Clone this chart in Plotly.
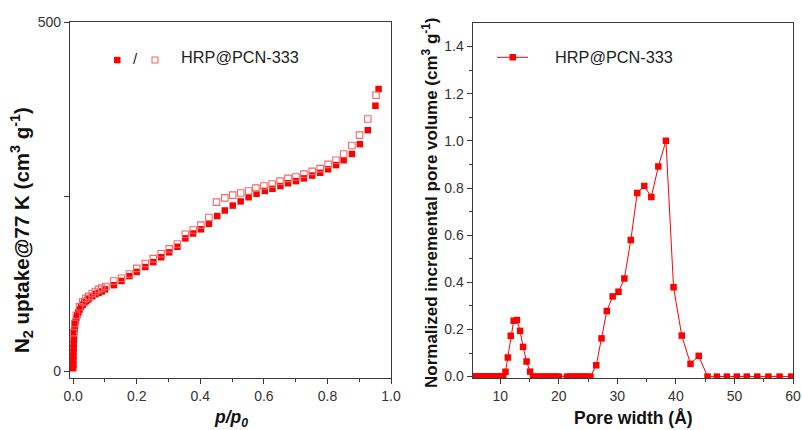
import plotly.graph_objects as go

# ---------------- data: N2 isotherm (left) ----------------
ads_p = [0.0002, 0.0004, 0.0006, 0.0008, 0.001, 0.0013, 0.0016, 0.002, 0.0025, 0.003,
         0.004, 0.005, 0.006, 0.008, 0.010, 0.013, 0.016, 0.020, 0.025, 0.030,
         0.035, 0.040, 0.045, 0.050, 0.060, 0.070, 0.080, 0.090, 0.100, 0.128,
         0.152, 0.177, 0.200, 0.227, 0.252, 0.277, 0.302, 0.328, 0.353, 0.377,
         0.402, 0.427, 0.453, 0.477, 0.502, 0.527, 0.552, 0.577, 0.603, 0.627,
         0.652, 0.676, 0.701, 0.726, 0.752, 0.777, 0.802, 0.827, 0.851, 0.877,
         0.902, 0.927, 0.951, 0.961]
ads_v = [4, 9, 15, 21, 27, 33, 39, 45, 50, 55,
         60, 64, 68, 72, 76, 80, 84, 88, 92, 95,
         98, 100, 102, 104, 107, 110, 112, 114, 117, 123,
         129, 136, 142, 149, 156, 163, 170, 178, 190, 197,
         203, 211, 222, 230, 237, 243, 249, 254, 258, 261,
         265, 269, 272, 276, 280, 284, 289, 295, 302, 311,
         325, 345, 380, 404]

des_p = [0.953, 0.927, 0.901, 0.877, 0.851, 0.827, 0.802, 0.777, 0.752, 0.726,
         0.701, 0.676, 0.651, 0.626, 0.600, 0.575, 0.552, 0.527, 0.502, 0.477,
         0.451, 0.427, 0.402, 0.378, 0.353, 0.328, 0.302, 0.277, 0.252, 0.227,
         0.200, 0.177, 0.152, 0.128, 0.103, 0.090, 0.080, 0.070, 0.060, 0.049,
         0.040, 0.030, 0.020, 0.010, 0.005, 0.001]
des_v = [395, 361, 338, 323, 311, 302, 296, 290, 286, 282,
         278, 276, 272, 268, 265, 262, 258, 255, 252, 248,
         242, 220, 209, 202, 196, 182, 175, 168, 161, 154,
         147, 139, 133, 129, 121, 119, 117, 114, 111, 107,
         104, 99, 92, 80, 68, 55]

# ---------------- data: pore size distribution (right) ----------------
pore_w = [5.4, 5.7, 6.0, 6.3, 6.6, 6.9, 7.2, 7.5, 7.8, 8.1, 8.4, 8.7, 9.0, 9.3, 9.6, 9.9,
          10.2, 10.5, 10.9, 11.3, 11.8, 12.3, 12.85, 13.4, 13.9, 14.5, 15.1,
          15.6, 16.1, 16.6, 17.1, 17.6, 18.1, 18.6, 19.1, 19.6, 20.0,
          21.4, 21.9, 22.4, 22.9, 23.4, 23.9, 24.4, 24.9, 25.4,
          26.4, 27.3, 28.2, 29.2, 30.2, 31.2, 32.3, 33.4, 34.6, 35.8, 37.0, 38.3,
          39.6, 41.0, 42.5, 43.9, 45.4, 47.0, 48.7, 50.4, 52.1, 53.9, 55.8, 57.7, 59.7]
pore_v = [0, 0, 0, 0, 0, 0, 0, 0, 0, 0, 0, 0, 0, 0, 0, 0,
          0, 0, 0.02, 0.081, 0.173, 0.237, 0.24, 0.194, 0.126, 0.064, 0.021,
          0, 0, 0, 0, 0, 0, 0, 0, 0, 0,
          0, 0, 0, 0, 0, 0, 0, 0, 0,
          0.048, 0.162, 0.278, 0.34, 0.36, 0.416, 0.579, 0.779, 0.809, 0.762, 0.891, 1.0,
          0.379, 0.174, 0.054, 0.088, 0, 0, 0, 0, 0, 0, 0, 0, 0]

legend_label = "HRP@PCN-333"

RED = "#ff0000"
PINK = "#f06a6a"
AX = "#3a3a3a"
FONT = "Liberation Sans, Arial, sans-serif"
W, H = 802, 430


def px(x):
    return x / W


def py(y):
    return 1 - y / H


fig = go.Figure()

fig.add_trace(go.Scatter(x=ads_p, y=ads_v, mode="markers", xaxis="x", yaxis="y",
                         marker=dict(symbol="square", size=6.5, color=RED, line=dict(width=0)),
                         showlegend=False))
fig.add_trace(go.Scatter(x=des_p, y=des_v, mode="markers", xaxis="x", yaxis="y",
                         marker=dict(symbol="square-open", size=6.5, color=PINK, line=dict(width=1.1)),
                         showlegend=False))
fig.add_trace(go.Scatter(x=pore_w, y=pore_v, mode="lines+markers", xaxis="x2", yaxis="y2",
                         line=dict(color=RED, width=1),
                         marker=dict(symbol="square", size=6.5, color=RED),
                         showlegend=False))

axis_common = dict(showline=True, linecolor=AX, linewidth=1.2, mirror=True,
                   ticks="outside", ticklen=5, tickwidth=1, tickcolor=AX,
                   showgrid=False, zeroline=False,
                   tickfont=dict(family=FONT, size=14, color="#333333"))

fig.update_layout(
    width=W, height=H,
    margin=dict(l=0, r=0, t=0, b=0, autoexpand=False),
    paper_bgcolor="white", plot_bgcolor="white",
    font=dict(family=FONT, color="#222222"),
    xaxis=dict(domain=[70 / W, 391 / W], range=[-0.01, 1.0], anchor="y",
               tickvals=[0, 0.2, 0.4, 0.6, 0.8, 1.0], ticktext=["0.0", "0.2", "0.4", "0.6", "0.8", "1.0"],
               minor=dict(tickvals=[0.1, 0.3, 0.5, 0.7, 0.9], ticks="outside", ticklen=3, tickcolor=AX),
               **axis_common),
    yaxis=dict(domain=[1 - 378 / H, 1 - 22 / H], range=[-10, 500], anchor="x",
               tickvals=[0, 250, 500], ticktext=["0", "", "500"],
               **axis_common),
    xaxis2=dict(domain=[472.7 / W, 793 / W], range=[5.3, 60], anchor="y2",
                tickvals=[10, 20, 30, 40, 50, 60],
                minor=dict(tickvals=[15, 25, 35, 45, 55], ticks="outside", ticklen=3, tickcolor=AX),
                **axis_common),
    yaxis2=dict(domain=[1 - 378 / H, 1 - 23 / H], range=[-0.006, 1.5], anchor="x2",
                tickvals=[0, 0.2, 0.4, 0.6, 0.8, 1.0, 1.2, 1.4],
                ticktext=["0.0", "0.2", "0.4", "0.6", "0.8", "1.0", "1.2", "1.4"],
                minor=dict(tickvals=[0.1, 0.3, 0.5, 0.7, 0.9, 1.1, 1.3], ticks="outside", ticklen=3, tickcolor=AX),
                **axis_common),
)

ann_base = dict(xref="paper", yref="paper", showarrow=False, yanchor="middle")
annotations = [
    dict(x=px(22), y=py(230), text="<b>N<sub>2</sub> uptake@77 K (cm<sup>3</sup> g<sup>-1</sup>)</b>",
         textangle=-90, xanchor="center", font=dict(family=FONT, size=20.5, color="#111111"), **ann_base),
    dict(x=px(231), y=py(418), text="<b><i>p/p<sub>0</sub></i></b>",
         xanchor="center", font=dict(family=FONT, size=17.5, color="#111111"), **ann_base),
    dict(x=px(430), y=py(203), text="<b>Normalized incremental pore volume (cm<sup>3</sup> g<sup>-1</sup>)</b>",
         textangle=-90, xanchor="center", font=dict(family=FONT, size=17, color="#111111"), **ann_base),
    dict(x=px(633), y=py(418), text="<b>Pore width (Å)</b>",
         xanchor="center", font=dict(family=FONT, size=17.5, color="#111111"), **ann_base),
    # legends
    dict(x=px(135.5), y=py(59), text="/", xanchor="center",
         font=dict(family=FONT, size=15, color="#222222"), **ann_base),
    dict(x=px(179), y=py(57), text=legend_label, xanchor="left",
         font=dict(family=FONT, size=16.3, color="#222222"), **ann_base),
    dict(x=px(553), y=py(57), text=legend_label, xanchor="left",
         font=dict(family=FONT, size=16.3, color="#222222"), **ann_base),
]
fig.update_layout(annotations=annotations)

shapes = [
    dict(type="rect", xref="paper", yref="paper", x0=px(114), x1=px(120.5), y0=py(63.3), y1=py(56.8),
         fillcolor=RED, line=dict(width=0)),
    dict(type="rect", xref="paper", yref="paper", x0=px(152), x1=px(158), y0=py(63), y1=py(57),
         fillcolor="white", line=dict(color=PINK, width=1.1)),
    dict(type="line", xref="paper", yref="paper", x0=px(497), x1=px(528), y0=py(57.3), y1=py(57.3),
         line=dict(color=RED, width=1)),
    dict(type="rect", xref="paper", yref="paper", x0=px(509.5), x1=px(516), y0=py(60.5), y1=py(54),
         fillcolor=RED, line=dict(width=0)),
]
fig.update_layout(shapes=shapes)

fig.write_html("out.html",
               config={"displayModeBar": False},
               post_script="document.body.style.margin='0px';document.body.style.overflow='hidden';")
